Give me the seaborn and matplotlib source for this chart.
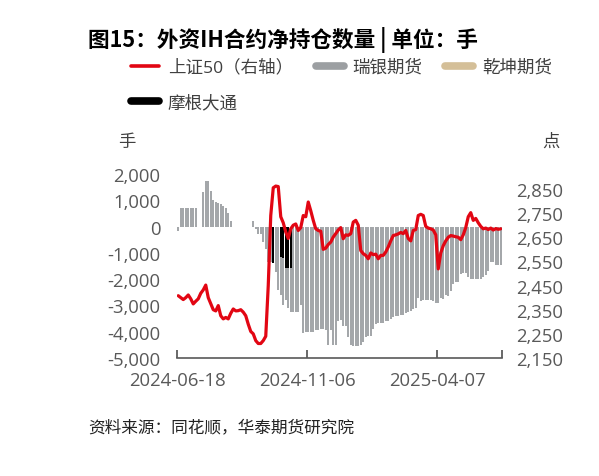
import numpy as np
import pandas as pd
import matplotlib
matplotlib.use("Agg")
import matplotlib.pyplot as plt
from matplotlib.lines import Line2D
from matplotlib.ticker import FuncFormatter
import seaborn as sns

# ---------------- data ----------------
# SSE 50 index (right axis), one value per sampled trading day
sz50 = [2408, 2400, 2392, 2400, 2411, 2395, 2374, 2385, 2395, 2418,
        2432, 2452, 2400, 2375, 2350, 2345, 2367, 2325, 2312, 2318,
        2312, 2335, 2353, 2345, 2346, 2350, 2340, 2325, 2290, 2260,
        2250, 2222, 2210, 2210, 2222, 2240, 2450, 2740, 2855, 2862,
        2860, 2735, 2710, 2672, 2645, 2685, 2700, 2705, 2678, 2690,
        2740, 2735, 2796, 2760, 2720, 2685, 2678, 2675, 2600, 2605,
        2620, 2630, 2651, 2665, 2680, 2690, 2644, 2660, 2658, 2665,
        2713, 2720, 2700, 2595, 2582, 2575, 2561, 2585, 2578, 2580,
        2561, 2575, 2575, 2589, 2610, 2635, 2657, 2660, 2664, 2670,
        2665, 2678, 2645, 2635, 2678, 2682, 2740, 2745, 2740, 2695,
        2688, 2685, 2680, 2660, 2519, 2585, 2615, 2635, 2650, 2657,
        2655, 2652, 2650, 2640, 2660, 2690, 2735, 2752, 2720, 2728,
        2710, 2695, 2685, 2688, 2682, 2688, 2680, 2686, 2683, 2685]

# UBS Futures net position (lots)
ubs = [-150, 700, 700, 700, 700, 700, 700, 700, 0, 0,
       1300, 1750, 1750, 1350, 1000, 950, 880, 840, 780, 720,
       500, 200, 0, 0, 0, 0, 0, 0, 0, 0,
       200, -100, -270, -300, -580, -840, -1330, -1330, -1400, -1720,
       -2400, -2610, -2990, -2800, -3110, -3240, -3240, -3240, -3240, -3000,
       -4060, -4000, -4000, -4000, -4000, -3950, -3950, -3900, -3900, -3950,
       -4500, -3950, -4500, -4500, -3600, -3560, -3800, -3800, -4200, -4500,
       -4550, -4550, -4550, -4500, -4400, -4200, -4150, -4150, -3900, -3700,
       -3650, -3650, -3650, -3600, -3600, -3500, -3450, -3400, -3400, -3350,
       -3350, -3300, -3250, -3200, -3150, -3100, -2700, -2850, -2800, -2800,
       -2800, -2800, -2850, -2900, -2900, -2700, -2750, -2600, -2650, -2450,
       -2200, -2100, -2100, -1800, -1750, -1750, -1900, -2000, -2000, -2000,
       -2000, -1980, -1900, -1850, -1700, -1350, -1350, -1450, -1450, -1450]

# JPMorgan net position (lots), non-zero only for a short stretch
jpm = [0] * 38 + [-1400, 0, 0, -1150, -1200, -1570, -1570, -1570] + [0] * 84

# Qiankun Futures: no visible position
qiankun = [0] * 130

date_labels = ["2024-06-18", "2024-11-06", "2025-04-07"]
date_label_idx = [0, 52, 104]
series_names = ["瑞银期货", "乾坤期货", "摩根大通"]
line_name = "上证50（右轴）"

# ---------------- style ----------------
RED = "#E20613"
GRAY = "#A4A7AA"
GRAY_LEG = "#9C9FA2"
TAN = "#D4BF98"
BLACK = "#000000"
TXT = "#595959"

sns.set_theme(style="white")
plt.rcParams["font.family"] = ["Open Sans", "Noto Sans CJK SC", "DejaVu Sans"]
plt.rcParams["axes.unicode_minus"] = False

n = len(sz50)
idx = list(range(n))
df = pd.DataFrame({
    "idx": idx * 3,
    "value": ubs + qiankun + jpm,
    "series": [series_names[0]] * n + [series_names[1]] * n + [series_names[2]] * n,
})

fig = plt.figure(figsize=(5.99, 4.77), dpi=100)
ax = fig.add_axes([177 / 599, 1 - 359 / 477, (502 - 177) / 599, (359 - 175) / 477])

sns.barplot(data=df, x="idx", y="value", hue="series", hue_order=series_names,
            palette={series_names[0]: GRAY, series_names[1]: TAN, series_names[2]: BLACK},
            dodge=False, width=0.72, errorbar=None, legend=False, ax=ax,
            linewidth=0, saturation=1)

ax2 = ax.twinx()
sns.lineplot(x=idx, y=sz50, ax=ax2, color=RED, linewidth=2.3)

# axes limits & ticks
ax.set_xlim(-0.5, n - 0.5)
ax.set_ylim(-5000, 2000)
ax2.set_ylim(2150, 2912)
ax.set_yticks(np.arange(-5000, 2001, 1000))
ax2.set_yticks(np.arange(2150, 2851, 100))
fmt = FuncFormatter(lambda v, p: f"{int(round(v)):,}")
ax.yaxis.set_major_formatter(fmt)
ax2.yaxis.set_major_formatter(fmt)

tick_pos = [i - 0.5 for i in date_label_idx] + [n - 0.5]
ax.set_xticks(tick_pos)
ax.set_xticklabels(date_labels + [""])

for a in (ax, ax2):
    for s in a.spines.values():
        s.set_visible(False)
    a.set_xlabel("")
    a.set_ylabel("")
    a.grid(False)
ax.spines["bottom"].set_visible(True)
ax.spines["bottom"].set_color("#595959")
ax.spines["bottom"].set_linewidth(1.2)

ax.tick_params(axis="x", direction="in", length=6, width=1.1, color="#404040",
               labelsize=13.3, labelcolor=TXT, pad=9, bottom=True)
ax.tick_params(axis="y", length=0, labelsize=13.3, labelcolor=TXT, pad=12)
ax2.tick_params(axis="y", length=0, labelsize=13.3, labelcolor=TXT, pad=10)

# ---------------- texts ----------------
fig.text(88 / 599, 1 - 40 / 477, "图15：外资IH合约净持仓数量 | 单位：手",
         fontsize=15.6, fontweight="bold", color="black", va="center", ha="left",
         family=["Noto Sans CJK SC", "DejaVu Sans"])
fig.text(127 / 599, 1 - 142 / 477, "手", fontsize=12.5, color="#404040",
         va="center", ha="center", family=["Noto Sans CJK SC"])
fig.text(551 / 599, 1 - 142 / 477, "点", fontsize=12.5, color="#404040",
         va="center", ha="center", family=["Noto Sans CJK SC"])
fig.text(88 / 599, 1 - 428 / 477, "资料来源：同花顺，华泰期货研究院", fontsize=12,
         color="#222222", va="center", ha="left", style="italic",
         family=["Noto Sans CJK SC"])

# ---------------- legend (row-wise order: col1 = line + JPM) ----------------
h_line = Line2D([0], [0], color=RED, lw=2.6)
h_ubs = Line2D([0], [0], color=GRAY_LEG, lw=5.5, solid_capstyle="round")
h_qk = Line2D([0], [0], color=TAN, lw=5.5, solid_capstyle="round")
h_jpm = Line2D([0], [0], color=BLACK, lw=5.5, solid_capstyle="round")
handles = [h_line, h_jpm, h_ubs, h_qk]
labels = [line_name, series_names[2], series_names[0], series_names[1]]
leg = fig.legend(handles, labels, loc="upper left", ncol=3,
                 bbox_to_anchor=(131 / 599, 1 - 60 / 477), frameon=False,
                 prop={"family": ["Open Sans", "Noto Sans CJK SC"], "size": 12.6},
                 handlelength=1.6, handletextpad=0.5, columnspacing=1.3,
                 labelspacing=1.08, borderpad=0, borderaxespad=0)
for t in leg.get_texts():
    t.set_color("#404040")

fig.savefig("out.png", dpi=100)
